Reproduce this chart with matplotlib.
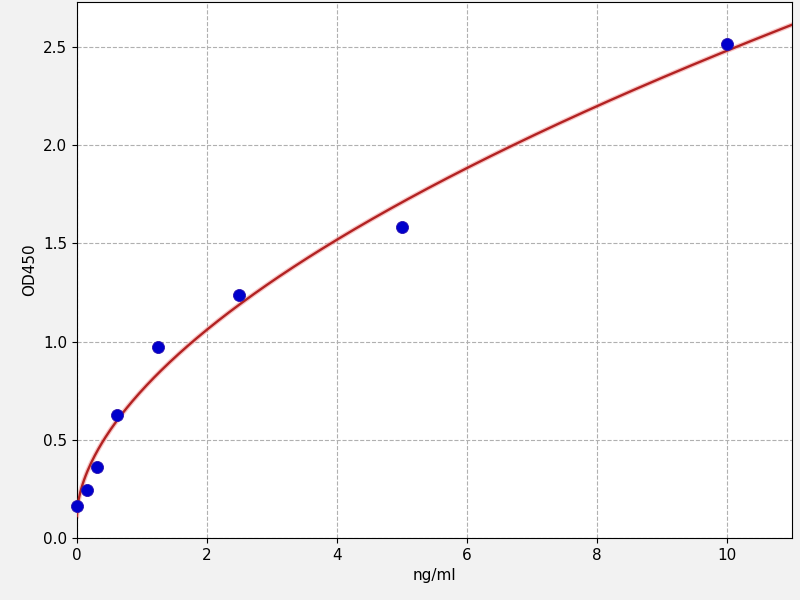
import numpy as np
import matplotlib
matplotlib.use('Agg')
import matplotlib.pyplot as plt

# standard concentrations (ng/ml) and measured OD450
conc = [0, 0.156, 0.3125, 0.625, 1.25, 2.5, 5, 10]
od450 = [0.165, 0.245, 0.36, 0.625, 0.975, 1.24, 1.585, 2.515]

x = np.array(conc)
y = np.array(od450)

# fit y = a + b * x^c  (grid over c, linear least squares for a, b)
best = None
for c in np.linspace(0.2, 1.2, 1001):
    A = np.column_stack([np.ones_like(x), x ** c])
    coef, res, _, _ = np.linalg.lstsq(A, y, rcond=None)
    err = np.sum((A @ coef - y) ** 2)
    if best is None or err < best[0]:
        best = (err, coef[0], coef[1], c)
_, a, b, c = best

xs = np.linspace(0, 11, 400)
ys = a + b * xs ** c

fig = plt.figure(figsize=(8, 6), dpi=100, facecolor='#f2f2f2')
ax = fig.add_axes([0.096, 0.103, 0.894, 0.894])
ax.plot(xs, ys, color='#f4a0a0', lw=3.5, alpha=0.6, zorder=2)
ax.plot(xs, ys, color='#b22222', lw=1.7, zorder=3)
ax.scatter(x, y, s=75, color='#0000cc', edgecolor='#2a10b0', linewidth=0.6, zorder=4, clip_on=False)

ax.set_xlim(0, 11)
ax.set_ylim(0, 2.73)
ax.set_xticks([0, 2, 4, 6, 8, 10])
ax.set_yticks([0.0, 0.5, 1.0, 1.5, 2.0, 2.5])
ax.grid(True, linestyle='--', color='#b0b0b0', linewidth=0.8)
ax.set_axisbelow(True)
ax.tick_params(labelsize=11)
ax.set_xlabel('ng/ml', fontsize=11, labelpad=4)
ax.set_ylabel('OD450', fontsize=11, labelpad=4)

fig.savefig('out.png', dpi=100, facecolor=fig.get_facecolor())
